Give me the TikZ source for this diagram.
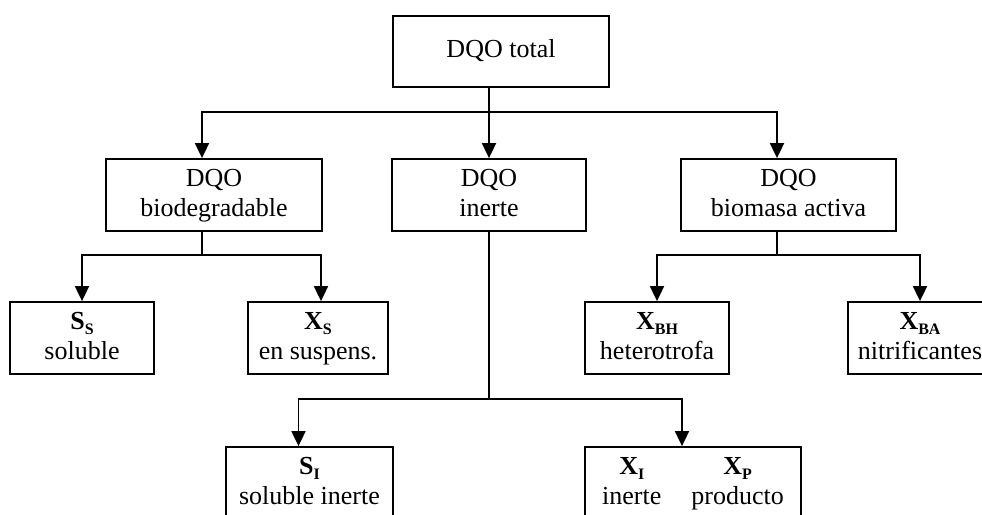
\documentclass[tikz,border=0pt]{standalone}
\usepackage{fontspec}
\setmainfont{Liberation Serif}
\usetikzlibrary{arrows.meta}
\newcommand\subtx[1]{\raisebox{-5pt}{\fontsize{16}{16}\selectfont\bfseries #1}}
\begin{document}
\begin{tikzpicture}[x=1pt,y=-1pt,
  box/.style={draw, line width=1.8pt, inner sep=0pt, align=center,
    font=\fontsize{26}{30}\selectfont, minimum height=72pt},
  conn/.style={line width=1.8pt},
  arr/.style={line width=1.8pt, -{Triangle[length=15pt,width=14pt]}}]
\useasboundingbox (0,0) rectangle (982,514);
\clip (0,0) rectangle (982,514);
% top
\node[box, minimum width=216pt, minimum height=71pt] (total) at (501,51.5) {\strut DQO total};
% level 2
\node[box, minimum width=216pt] (bio) at (214,195) {\strut DQO\\\strut biodegradable};
\node[box, minimum width=194pt] (inerte) at (489,195) {\strut DQO\\\strut inerte};
\node[box, minimum width=215pt] (biom) at (788.5,195) {\strut DQO\\\strut biomasa activa};
% level 3
\node[box, minimum width=144pt] (ss) at (82,338) {\strut\textbf{S}\subtx{S}\\\strut soluble};
\node[box, minimum width=140pt] (xs) at (318,338) {\strut\textbf{X}\subtx{S}\\\strut en suspens.};
\node[box, minimum width=144pt] (xbh) at (657,338) {\strut\textbf{X}\subtx{BH}\\\strut heterotrofa};
\node[box, minimum width=144pt] (xba) at (920,338) {\strut\textbf{X}\subtx{BA}\\\strut nitrificantes};
% level 4
\node[box, minimum width=167pt] (si) at (309.5,483) {\strut\textbf{S}\subtx{I}\\\strut soluble inerte};
\node[box, minimum width=216pt] (xip) at (693,483)
  {\begin{tabular}{@{}c@{\hspace{30pt}}c@{}}\textbf{X}\subtx{I} & \textbf{X}\subtx{P}\\ inerte & producto\end{tabular}};
% connectors from total
\coordinate (b1) at (489,112);
\draw[conn] (total.south -| inerte.north) -- (b1);
\draw[arr] (b1) -| ([xshift=-12pt]bio.north);
\draw[arr] (b1) -- (inerte.north);
\draw[arr] (b1) -| ([xshift=-11.5pt]biom.north);
% from bio
\coordinate (b2) at (202,255);
\draw[conn] ([xshift=-12pt]bio.south) -- (b2);
\draw[arr] (b2) -| (ss.north);
\draw[arr] (b2) -| ([xshift=3pt]xs.north);
% from biomasa
\coordinate (b3) at (777,255);
\draw[conn] ([xshift=-11.5pt]biom.south) -- (b3);
\draw[arr] (b3) -| (xbh.north);
\draw[arr] (b3) -| (xba.north);
% from inerte
\coordinate (b4) at (489,399);
\draw[conn] (inerte.south) -- (b4);
\draw[arr] (b4) -| ([xshift=-11pt]si.north);
\draw[arr] (b4) -| ([xshift=-11pt]xip.north);
\end{tikzpicture}
\end{document}
